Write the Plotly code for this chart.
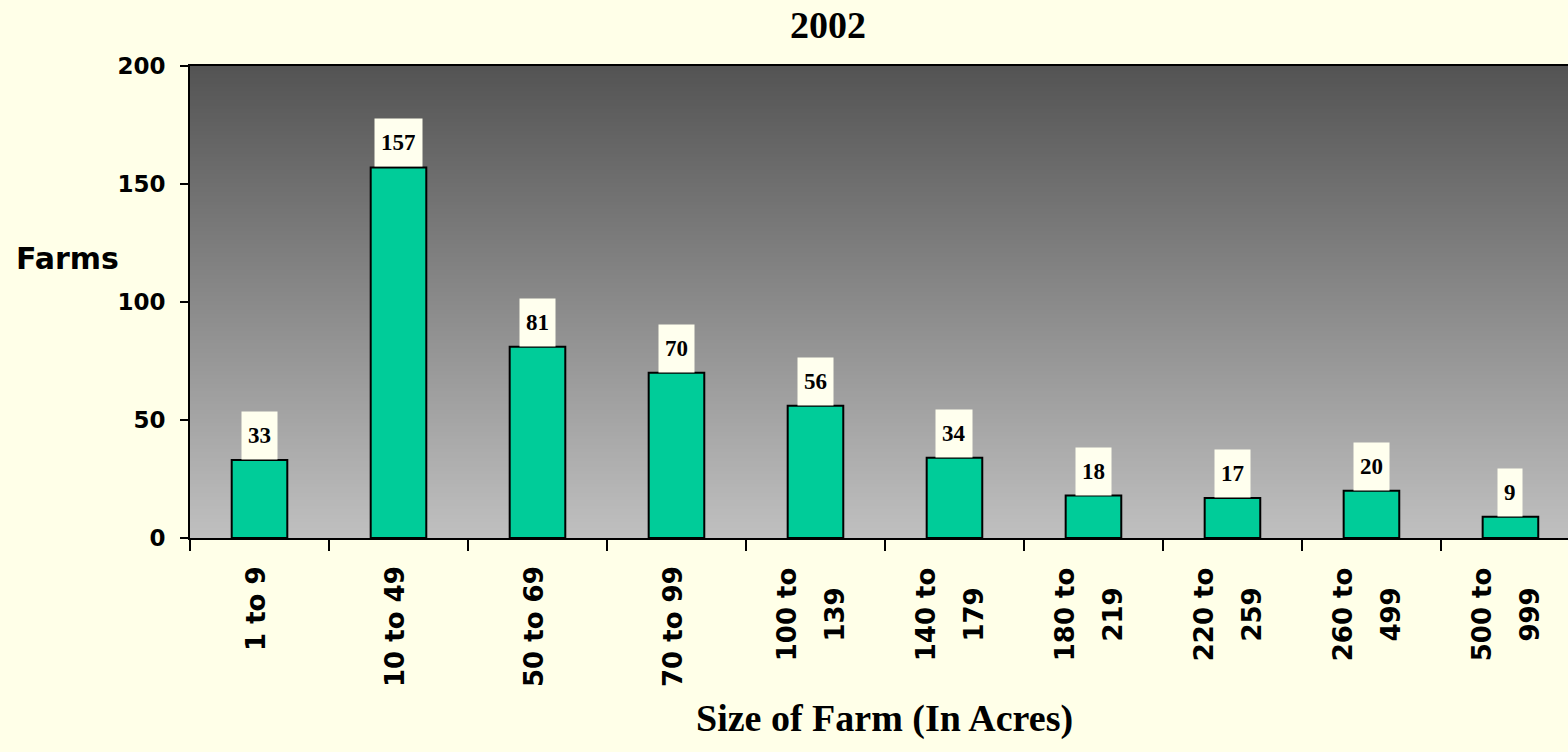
import base64
import struct
import zlib

import plotly.graph_objects as go

# ---- data ----
categories = ["1 to 9", "10 to 49", "50 to 69", "70 to 99", "100 to 139",
              "140 to 179", "180 to 219", "220 to 259", "260 to 499", "500 to 999"]
farms = [33, 157, 81, 70, 56, 34, 18, 17, 20, 9]
label_line1 = ["1 to 9", "10 to 49", "50 to 69", "70 to 99", "100 to",
               "140 to", "180 to", "220 to", "260 to", "500 to"]
label_line2 = ["", "", "", "", "139", "179", "219", "259", "499", "999"]
y_ticks = [0, 50, 100, 150, 200]

title_text = "2002"
x_title = "Size of Farm (In Acres)"
y_title = "Farms"

PAPER = "#FFFFE8"
BOX = "#FFFFEE"
BAR = "#00CC99"
SANS = "DejaVu Sans"
SERIF = "Liberation Serif"

PL, PT, PW, PH = 190, 66, 1378, 472  # plot area in px


def gradient_png(top, bottom, h=256, w=4):
    raw = b""
    for i in range(h):
        t = i / (h - 1)
        px = bytes(round(top[k] + (bottom[k] - top[k]) * t) for k in range(3))
        raw += b"\x00" + px * w

    def chunk(tag, data):
        c = struct.pack(">I", len(data)) + tag + data
        return c + struct.pack(">I", zlib.crc32(tag + data) & 0xFFFFFFFF)

    ihdr = struct.pack(">IIBBBBB", w, h, 8, 2, 0, 0, 0)
    png = (b"\x89PNG\r\n\x1a\n" + chunk(b"IHDR", ihdr)
           + chunk(b"IDAT", zlib.compress(raw)) + chunk(b"IEND", b""))
    return "data:image/png;base64," + base64.b64encode(png).decode()


fig = go.Figure()
fig.add_trace(go.Bar(
    x=categories, y=farms, width=0.40,
    marker=dict(color=BAR, line=dict(color="black", width=2)),
    hoverinfo="x+y",
))

annotations = []
# data labels
for c, v in zip(categories, farms):
    annotations.append(dict(
        x=c, y=v, xref="x", yref="y", yanchor="bottom", xanchor="center",
        text=str(v), showarrow=False, bgcolor=BOX, borderpad=6, height=35,
        font=dict(family=SERIF, size=23, color="black", weight="bold"),
    ))

# category labels (rotated)
for c, l1, l2 in zip(categories, label_line1, label_line2):
    lab_font = dict(family=SANS, size=26, color="black", weight="bold")
    if l2:
        annotations.append(dict(
            x=c, y=0, xref="x", yref="paper", xanchor="center", yanchor="top",
            yshift=-26, xshift=-28, text=l1, textangle=-90, showarrow=False,
            width=96, align="center", font=lab_font))
        annotations.append(dict(
            x=c, y=0, xref="x", yref="paper", xanchor="center", yanchor="top",
            yshift=-26, xshift=20, text=l2, textangle=-90, showarrow=False,
            width=96, align="center", font=lab_font))
    else:
        annotations.append(dict(
            x=c, y=0, xref="x", yref="paper", xanchor="center", yanchor="top",
            yshift=-26, xshift=-4, text=l1, textangle=-90, showarrow=False,
            font=lab_font))

# titles
annotations.append(dict(
    x=(828 - PL) / PW, y=1, xref="paper", yref="paper", xanchor="center",
    yanchor="middle", yshift=PT - 25, text=title_text, showarrow=False,
    font=dict(family=SERIF, size=38, color="black", weight="bold")))
annotations.append(dict(
    x=(884 - PL) / PW, y=0, xref="paper", yref="paper", xanchor="center",
    yanchor="middle", yshift=-(718 - (PT + PH)), text=x_title, showarrow=False,
    font=dict(family=SERIF, size=38, color="black", weight="bold")))
annotations.append(dict(
    x=(68 - PL) / PW, y=(PT + PH - 258) / PH, xref="paper", yref="paper",
    xanchor="center", yanchor="middle", text=y_title, showarrow=False,
    font=dict(family=SANS, size=30, color="black", weight="bold")))

fig.update_layout(
    width=1568, height=752,
    margin=dict(l=PL, r=1568 - PL - PW, t=PT, b=752 - PT - PH),
    paper_bgcolor=PAPER,
    plot_bgcolor="rgba(0,0,0,0)",
    showlegend=False,
    bargap=0.6,
    annotations=annotations,
    images=[dict(
        source=gradient_png((84, 84, 84), (192, 192, 192)),
        xref="paper", yref="paper", x=0, y=1, sizex=1, sizey=1,
        xanchor="left", yanchor="top", sizing="stretch", layer="below",
    )],
    xaxis=dict(
        type="category", range=[-0.5, 9.414],
        showline=True, linecolor="black", linewidth=2, mirror=True,
        ticks="outside", ticklen=11, tickwidth=2, tickcolor="black",
        tickson="boundaries", showticklabels=False, showgrid=False, zeroline=False,
    ),
    yaxis=dict(
        range=[0, 200], tickvals=y_ticks,
        showline=True, linecolor="black", linewidth=2,
        ticks="outside", ticklen=8, tickwidth=2, tickcolor="black",
        ticklabelstandoff=10,
        tickfont=dict(family=SANS, size=23, color="black", weight="bold"),
        showgrid=False, zeroline=False,
    ),
)

fig.write_html(
    "out.html",
    config={"displayModeBar": False},
    post_script="document.body.style.margin='0';document.body.style.overflow='hidden';",
)
